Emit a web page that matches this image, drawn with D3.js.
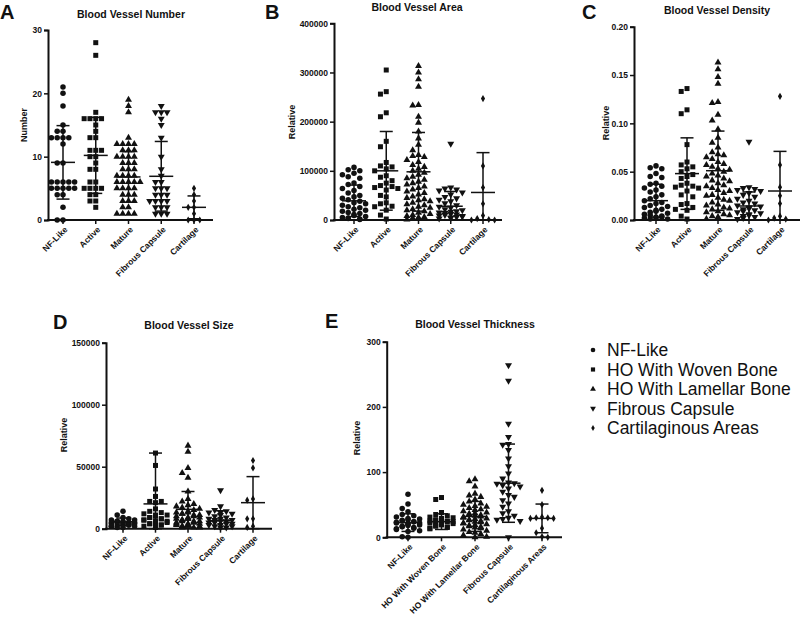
<!DOCTYPE html>
<html><head><meta charset="utf-8">
<script src="https://cdn.jsdelivr.net/npm/d3@7"></script>
<style>body{margin:0;background:#fff;} text{font-family:"Liberation Sans",Arial,sans-serif;fill:#111;}</style>
</head><body><svg id="c" width="800" height="618"></svg>
<script>
// ---------- categories ----------
const groupsShort = ["NF-Like","Active","Mature","Fibrous Capsule","Cartilage"];
const groupsLong = ["NF-Like","HO With Woven Bone","HO With Lamellar Bone","Fibrous Capsule","Cartilaginous Areas"];
const legendLabels = ["NF-Like","HO With Woven Bone","HO With Lamellar Bone","Fibrous Capsule","Cartilaginous Areas"];

// ---------- A: Blood Vessel Number ----------
const numberValues = [
  [21,20,18,15,14,14,13,13,13,13,12,9,9,6,6,6,6,6,5,5,5,5,5,4,4,2,0,0],
  [28,26,17,16,16,16,16,15,14,13,13,11,11,11,10,10,9,8,8,6,6,5,5,5,5,4,4,3,3,2],
  [19,18,17,13,12,12,12,12,11,11,11,10,10,10,10,9,9,9,8,8,8,7,7,7,7,6,6,6,6,6,5,5,5,5,4,4,4,3,3,3,2,2,1,1,1,1],
  [18,17,17,17,16,15,13,10,8,7,6,6,5,5,5,4,4,4,3,3,3,3,2,2,2,1,1,1],
  [5,4,3,2,2,1,0,0,0]
];
const numberMean = [9.1,10.2,6.8,6.9,2.0];
const numberSD = [5.8,6.0,4.0,5.5,1.8];
const numberTicks = [0,10,20,30];

// ---------- B: Blood Vessel Area ----------
const areaValues = [
  [107,102,100,95,92,88,85,75,72,68,64,60,55,50,47,44,41,38,35,33,30,27,25,22,20,18,15,13,11,9,7,5,4,3,2,1].map(v=>v*1000),
  [305,261,256,218,210,160,149,117,110,108,104,100,90,87,80,75,70,68,66,64,61,50,47,35,33,28,27,20,10,2].map(v=>v*1000),
  [313,300,286,271,234,233,210,198,180,166,153,142,132,130,128,122,118,112,108,104,100,96,92,88,85,82,78,75,72,68,65,62,58,55,52,48,45,42,40,38,35,32,30,27,25,22,20,18,15,12,10,8,6,5,4,3,2,1].map(v=>v*1000),
  [155,66,64,62,60,56,52,47,44,41,38,34,30,27,25,22,20,18,17,15,14,12,11,10,9,8,7,6,5,4,3].map(v=>v*1000),
  [247,110,66,33,9,3,1,0,0].map(v=>v*1000)
];
const areaMean = [39000,100000,98000,28000,56000];
const areaSD = [32000,80000,80000,30000,81000];
const areaTicks = [0,100000,200000,300000,400000];

// ---------- C: Blood Vessel Density ----------
const densityValues = [
  [0.056,0.054,0.053,0.048,0.045,0.044,0.038,0.037,0.035,0.033,0.031,0.029,0.026,0.024,0.022,0.020,0.018,0.017,0.015,0.014,0.013,0.011,0.010,0.009,0.008,0.007,0.006,0.005,0.004,0.003,0.003,0.002,0.002,0.001,0.001],
  [0.136,0.133,0.114,0.110,0.078,0.060,0.057,0.055,0.053,0.050,0.047,0.045,0.043,0.038,0.036,0.035,0.034,0.033,0.030,0.026,0.024,0.017,0.016,0.013,0.011,0.010,0.004,0.001],
  [0.163,0.156,0.148,0.141,0.122,0.121,0.109,0.103,0.094,0.085,0.080,0.075,0.070,0.068,0.067,0.065,0.063,0.060,0.058,0.057,0.055,0.053,0.052,0.050,0.048,0.046,0.045,0.043,0.041,0.040,0.038,0.036,0.035,0.033,0.031,0.030,0.028,0.026,0.025,0.023,0.021,0.020,0.018,0.016,0.015,0.013,0.012,0.011,0.009,0.008,0.006,0.005,0.004,0.003,0.002,0.001],
  [0.081,0.034,0.033,0.032,0.031,0.030,0.028,0.026,0.024,0.022,0.020,0.018,0.017,0.015,0.014,0.013,0.012,0.011,0.010,0.009,0.008,0.007,0.006,0.005,0.004,0.003,0.002,0.001],
  [0.128,0.057,0.034,0.025,0.017,0.004,0.002,0.001,0.0]
];
const densityMean = [0.020,0.048,0.051,0.0145,0.030];
const densitySD = [0.017,0.037,0.041,0.0145,0.041];
const densityTicks = [0,0.05,0.10,0.15,0.20];

// ---------- D: Blood Vessel Size ----------
const sizeValues = [
  [14,11,9,8,7,7,6,6,6,5,5,5,5,5,4,4,4,4,3,3,3,3,2,2,2,1,1].map(v=>v*1000),
  [61,51,32,26,22,22,21,16,14,13,12,11,11,10,9,9,8,8,7,7,6,6,5,5,4,4,3,3,2,1].map(v=>v*1000),
  [67,62,49,45,41,30,24,22,20,19,18,17,16,15,14,13,13,12,12,11,11,10,10,9,9,8,8,8,7,7,6,6,6,5,5,5,4,4,4,3,3,3,2,2,2,1,1,1].map(v=>v*1000),
  [31,18,15,14,13,13,12,11,10,9,8,8,7,7,6,6,5,5,4,4,3,3,2,2,1,1].map(v=>v*1000),
  [55,49,24,23,8,8,2,1].map(v=>v*1000)
];
const sizeMean = [5600,20000,15600,6500,21000];
const sizeSD = [3000,41000,14400,8000,21000];
const sizeTicks = [0,50000,100000,150000];

// ---------- E: Blood Vessel Thickness ----------
const thicknessValues = [
  [66,51,44,39,35,33,31,29,28,27,26,25,24,24,23,22,22,21,20,19,18,17,16,15,14,13,12,10,9,1,0],
  [61,58,38,35,33,31,30,29,28,27,26,25,25,24,24,23,22,21,20,20,19,18,17,16,15,14,13],
  [89,86,78,67,64,62,58,55,52,50,48,47,45,43,42,40,38,37,36,35,34,33,32,31,30,29,28,27,26,25,24,23,22,21,20,19,18,17,16,15,14,12,10,8,7,5,3,1,0],
  [264,240,174,154,143,142,134,121,109,98,90,84,83,82,80,78,75,70,65,62,57,52,47,40,37,33,30,28,27,25,0],
  [72,50,31,30,30,29,29,14,7,1,0]
];
const thicknessMean = [22.5,24,32,83,29];
const thicknessSD = [13.5,12,23,60,22];
const thicknessTicks = [0,100,200,300];

// ---------- drawing ----------
const svg = d3.select("#c");
const symTypes = [d3.symbolCircle, d3.symbolSquare, d3.symbolTriangle, d3.symbolTriangle, d3.symbolDiamond];
const symSizes = [24, 25, 21, 21, 15];
const symRot = [0,0,0,180,0];
const INK = "#111";

function symbolPath(i, scale=1){ return d3.symbol().type(symTypes[i]).size(symSizes[i]*scale)(); }

const panels = [
  {letter:"A", lx:0, ly:19, title:"Blood Vessel Number", tx:131, ty:18, ylab:"Number", ylx:27, yly:125,
   ax:48, xEnd:213, yZero:220, yTop:30, max:30, ticks:numberTicks, fmt:d=>d, cats:groupsShort, c0:63, c1:194,
   vals:numberValues, mean:numberMean, sd:numberSD},
  {letter:"B", lx:265, ly:19, title:"Blood Vessel Area", tx:417, ty:11, ylab:"Relative", ylx:295, yly:122,
   ax:334, xEnd:502, yZero:220, yTop:23.3, max:400000, ticks:areaTicks, fmt:d=>d, cats:groupsShort, c0:354, c1:483,
   vals:areaValues, mean:areaMean, sd:areaSD},
  {letter:"C", lx:582, ly:19, title:"Blood Vessel Density", tx:717, ty:14, ylab:"Relative", ylx:609, yly:123,
   ax:634, xEnd:800, yZero:220, yTop:26.7, max:0.20, ticks:densityTicks, fmt:d3.format(".2f"), cats:groupsShort, c0:656, c1:780,
   vals:densityValues, mean:densityMean, sd:densitySD},
  {letter:"D", lx:53, ly:329, title:"Blood Vessel Size", tx:189, ty:329, ylab:"Relative", ylx:67, yly:435,
   ax:106, xEnd:272, yZero:528.7, yTop:342.7, max:150000, ticks:sizeTicks, fmt:d=>d, cats:groupsShort, c0:123, c1:253,
   vals:sizeValues, mean:sizeMean, sd:sizeSD},
  {letter:"E", lx:325, ly:328, title:"Blood Vessel Thickness", tx:475, ty:328, ylab:"Relative", ylx:360, yly:438,
   ax:386.7, xEnd:562, yZero:537.3, yTop:341.7, max:300, ticks:thicknessTicks, fmt:d=>d, cats:groupsLong, c0:408, c1:542,
   vals:thicknessValues, mean:thicknessMean, sd:thicknessSD}
];

function swarm(pixYs, s, maxOff){
  const placed = [];
  const order = pixYs.map((y,i)=>i).sort((a,b)=>pixYs[a]-pixYs[b]);
  const offs = new Array(pixYs.length);
  const cand = [0]; for(let k=1;k<=12;k++){cand.push(-k*s, k*s);}
  order.forEach(i=>{
    const y = pixYs[i];
    let best = null, bestOverlap = Infinity;
    for(const o of cand){
      if(Math.abs(o) > maxOff) continue;
      let ov = 0;
      for(const p of placed){
        if(Math.abs(p.y-y) < s && Math.abs(p.x-o) < s) ov++;
      }
      if(ov===0){best=o;break;}
      if(ov<bestOverlap){bestOverlap=ov;best=o;}
    }
    placed.push({x:best,y});
    offs[i]=best;
  });
  return offs;
}

panels.forEach(P=>{
  const g = svg.append("g");
  const y = d3.scaleLinear().domain([0,P.max]).range([P.yZero,P.yTop]);
  const x = d3.scalePoint().domain(P.cats).range([P.c0,P.c1]);

  // letter & title
  g.append("text").attr("x",P.lx).attr("y",P.ly).attr("font-size",20).attr("font-weight","bold").text(P.letter);
  g.append("text").attr("x",P.tx).attr("y",P.ty).attr("text-anchor","middle").attr("font-size",10.5).attr("font-weight","bold").text(P.title);
  g.append("text").attr("transform",`translate(${P.ylx},${P.yly}) rotate(-90)`).attr("text-anchor","middle")
    .attr("font-size",9).attr("font-weight","bold").text(P.ylab);

  // y axis
  const yAxis = d3.axisLeft(y).tickValues(P.ticks).tickFormat(P.fmt).tickSize(4).tickPadding(2);
  const ya = g.append("g").attr("transform",`translate(${P.ax},0)`).call(yAxis);
  ya.select(".domain").attr("stroke",INK).attr("stroke-width",2);
  ya.selectAll(".tick line").attr("stroke",INK).attr("stroke-width",1.5);
  ya.selectAll(".tick text").attr("font-size",8.5).attr("font-weight","bold").attr("fill",INK)
    .attr("font-family","Liberation Sans, Arial, sans-serif");

  // x axis
  g.append("line").attr("x1",P.ax-1).attr("x2",P.xEnd).attr("y1",P.yZero).attr("y2",P.yZero)
    .attr("stroke",INK).attr("stroke-width",2);
  P.cats.forEach(c=>{
    g.append("line").attr("x1",x(c)).attr("x2",x(c)).attr("y1",P.yZero).attr("y2",P.yZero+4).attr("stroke",INK).attr("stroke-width",1.5);
    g.append("text").attr("transform",`translate(${x(c)+3},${P.yZero+8}) rotate(-45)`).attr("text-anchor","end")
      .attr("dy","0.35em").attr("font-size",8.5).attr("font-weight","bold").text(c);
  });

  // points
  P.vals.forEach((arr,i)=>{
    const cx = x(P.cats[i]);
    const ys = arr.map(v=>y(v));
    const offs = swarm(ys, 5.8, 20);
    g.append("g").selectAll("path").data(arr).join("path")
      .attr("d", symbolPath(i))
      .attr("transform",(d,j)=>`translate(${cx+offs[j]},${ys[j]}) rotate(${symRot[i]})`)
      .attr("fill",INK);
  });

  // mean & SD
  P.mean.forEach((m,i)=>{
    const cx = x(P.cats[i]);
    const hi = y(m+P.sd[i]), lo = y(Math.max(0,m-P.sd[i]));
    g.append("line").attr("x1",cx).attr("x2",cx).attr("y1",hi).attr("y2",lo).attr("stroke",INK).attr("stroke-width",1.5);
    g.append("line").attr("x1",cx-6.5).attr("x2",cx+6.5).attr("y1",hi).attr("y2",hi).attr("stroke",INK).attr("stroke-width",1.5);
    g.append("line").attr("x1",cx-6.5).attr("x2",cx+6.5).attr("y1",lo).attr("y2",lo).attr("stroke",INK).attr("stroke-width",1.5);
    g.append("line").attr("x1",cx-12).attr("x2",cx+12).attr("y1",y(m)).attr("y2",y(m)).attr("stroke",INK).attr("stroke-width",1.5);
  });
});

// legend
const lg = svg.append("g");
legendLabels.forEach((t,i)=>{
  const yy = 350 + i*19.5;
  lg.append("path").attr("d",symbolPath(i,0.7)).attr("transform",`translate(593,${yy}) rotate(${symRot[i]})`).attr("fill",INK);
  lg.append("text").attr("x",607).attr("y",yy).attr("dy","0.35em").attr("font-size",17.5).text(t);
});
</script></body></html>
